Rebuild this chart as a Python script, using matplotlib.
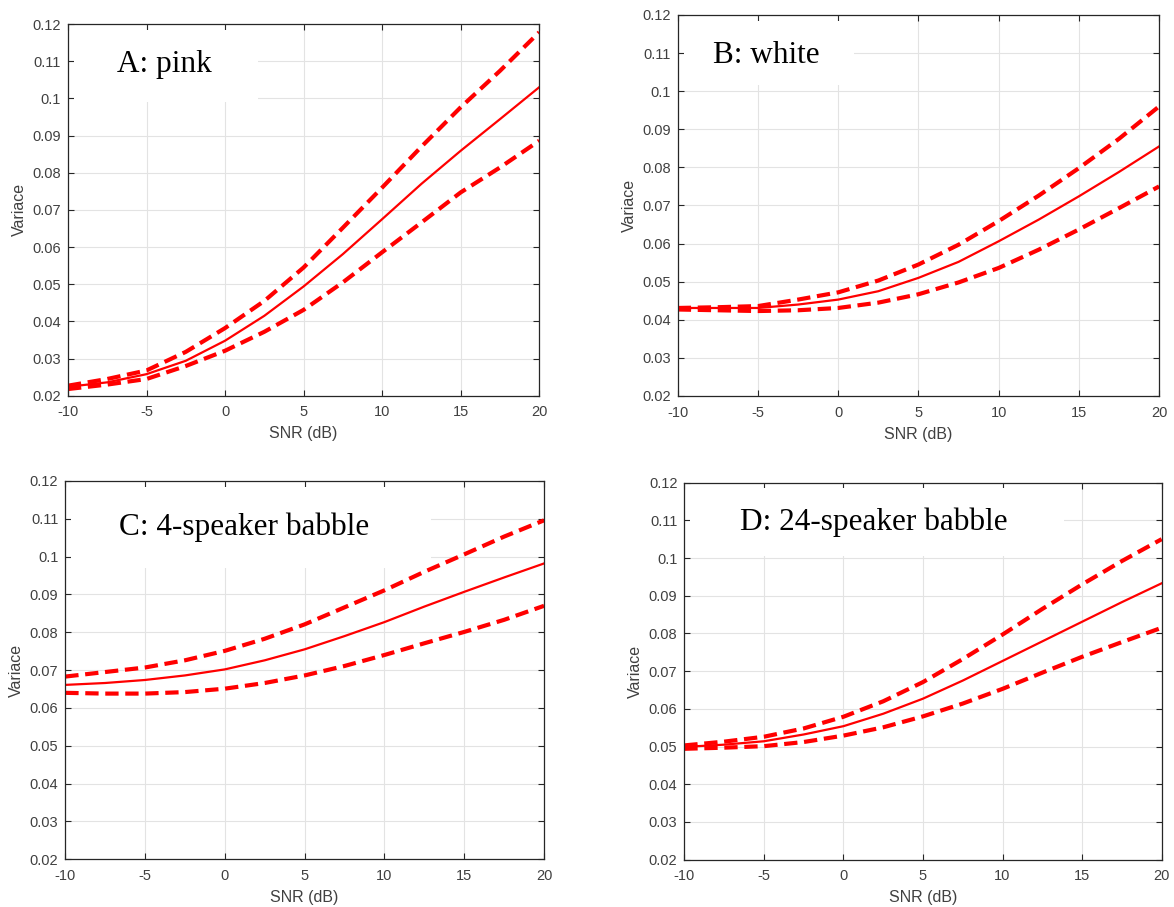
import numpy as np
import matplotlib
matplotlib.use("Agg")
import matplotlib.pyplot as plt
from matplotlib.patches import Rectangle

plt.rcParams["axes.unicode_minus"] = False

# SNR grid (dB)
snr = [-10, -7.5, -5, -2.5, 0, 2.5, 5, 7.5, 10, 12.5, 15, 17.5, 20]

# A: pink noise
pink_mean = [0.0224, 0.0236, 0.0258, 0.0294, 0.0348, 0.0415, 0.0494, 0.0581, 0.0675, 0.0770, 0.0859, 0.0944, 0.1030]
pink_hi   = [0.0227, 0.0245, 0.0268, 0.0318, 0.0382, 0.0455, 0.0545, 0.0652, 0.0760, 0.0870, 0.0976, 0.1074, 0.1178]
pink_lo   = [0.0218, 0.0230, 0.0245, 0.0280, 0.0321, 0.0372, 0.0431, 0.0505, 0.0586, 0.0666, 0.0747, 0.0814, 0.0886]

# B: white noise
white_mean = [0.0431, 0.0431, 0.0431, 0.0440, 0.0453, 0.0475, 0.0510, 0.0552, 0.0606, 0.0663, 0.0724, 0.0788, 0.0855]
white_hi   = [0.0431, 0.0433, 0.0436, 0.0453, 0.0472, 0.0503, 0.0545, 0.0597, 0.0659, 0.0726, 0.0798, 0.0875, 0.0960]
white_lo   = [0.0427, 0.0425, 0.0423, 0.0425, 0.0431, 0.0445, 0.0467, 0.0498, 0.0536, 0.0584, 0.0637, 0.0693, 0.0750]

# C: 4-speaker babble
bab4_mean = [0.0661, 0.0666, 0.0674, 0.0686, 0.0702, 0.0726, 0.0755, 0.0790, 0.0827, 0.0868, 0.0907, 0.0945, 0.0982]
bab4_hi   = [0.0683, 0.0695, 0.0707, 0.0726, 0.0751, 0.0783, 0.0821, 0.0866, 0.0911, 0.0960, 0.1006, 0.1053, 0.1096]
bab4_lo   = [0.0640, 0.0638, 0.0638, 0.0642, 0.0651, 0.0666, 0.0686, 0.0711, 0.0740, 0.0771, 0.0801, 0.0833, 0.0870]

# D: 24-speaker babble
bab24_mean = [0.0499, 0.0505, 0.0514, 0.0532, 0.0554, 0.0587, 0.0627, 0.0675, 0.0727, 0.0779, 0.0831, 0.0883, 0.0933]
bab24_hi   = [0.0503, 0.0513, 0.0526, 0.0548, 0.0579, 0.0620, 0.0671, 0.0732, 0.0797, 0.0865, 0.0930, 0.0992, 0.1050]
bab24_lo   = [0.0494, 0.0497, 0.0501, 0.0512, 0.0529, 0.0551, 0.0580, 0.0614, 0.0653, 0.0696, 0.0738, 0.0777, 0.0815]

titles = ["A: pink", "B: white", "C: 4-speaker babble", "D: 24-speaker babble"]
series = [(pink_mean, pink_hi, pink_lo),
          (white_mean, white_hi, white_lo),
          (bab4_mean, bab4_hi, bab4_lo),
          (bab24_mean, bab24_hi, bab24_lo)]

xticks = [-10, -5, 0, 5, 10, 15, 20]
yticks = [0.02, 0.03, 0.04, 0.05, 0.06, 0.07, 0.08, 0.09, 0.1, 0.11, 0.12]
ytick_labels = ["0.02", "0.03", "0.04", "0.05", "0.06", "0.07", "0.08", "0.09", "0.1", "0.11", "0.12"]

# axes rectangles in figure fractions (left, bottom, width, height)
positions = [(0.0579, 0.5637, 0.4014, 0.4098),
             (0.5773, 0.5634, 0.4100, 0.4201),
             (0.0556, 0.0526, 0.4078, 0.4171),
             (0.5829, 0.0522, 0.4066, 0.4157)]
# white label box (right edge, bottom) and text anchor (x, baseline), axes fractions
boxes = [(0.403, 0.790), (0.366, 0.816), (0.764, 0.770), (0.795, 0.806)]
text_pos = [(0.103, 0.871), (0.073, 0.874), (0.113, 0.857), (0.117, 0.875)]

W, H = 1174, 907
fig = plt.figure(figsize=(W / 100, H / 100), dpi=100)

tick_col = "#404040"
for i in range(4):
    ax = fig.add_axes(positions[i])
    mean, hi, lo = series[i]
    ax.plot(snr, hi, color="#ff0000", lw=3.0, ls=(0, (3.2, 1.6)), zorder=2)
    ax.plot(snr, lo, color="#ff0000", lw=3.0, ls=(0, (3.2, 1.6)), zorder=2)
    ax.plot(snr, mean, color="#ff0000", lw=1.6, zorder=2.1)

    ax.set_xlim(-10, 20)
    ax.set_ylim(0.02, 0.12)
    ax.set_xticks(xticks)
    ax.set_yticks(yticks)
    ax.set_yticklabels(ytick_labels)
    ax.set_axisbelow(True)
    ax.grid(True, color="#e3e3e3", lw=0.8)
    ax.tick_params(direction="in", length=4, width=0.8, top=True, right=True,
                   labelsize=10.5, labelcolor=tick_col, color="#262626", pad=5)
    ax.tick_params(axis="x", pad=7)
    for lab in ax.get_xticklabels() + ax.get_yticklabels():
        lab.set_family("Liberation Sans")
    for sp in ax.spines.values():
        sp.set_color("#262626")
        sp.set_linewidth(0.9)

    ax.set_xlabel("SNR (dB)", family="Liberation Sans", fontsize=11.5, color=tick_col, labelpad=5)
    ax.set_ylabel("Variace", family="Liberation Sans", fontsize=11.5, color=tick_col, labelpad=4)

    bx, by = boxes[i]
    ax.add_patch(Rectangle((0.012, by), bx - 0.012, 0.985 - by, transform=ax.transAxes,
                           facecolor="white", edgecolor="none", zorder=1))
    tx, ty = text_pos[i]
    ax.text(tx, ty, titles[i], transform=ax.transAxes, family="Liberation Serif",
            fontsize=22.5, va="baseline", ha="left", color="black", zorder=3)

fig.savefig("out.png", dpi=100)
